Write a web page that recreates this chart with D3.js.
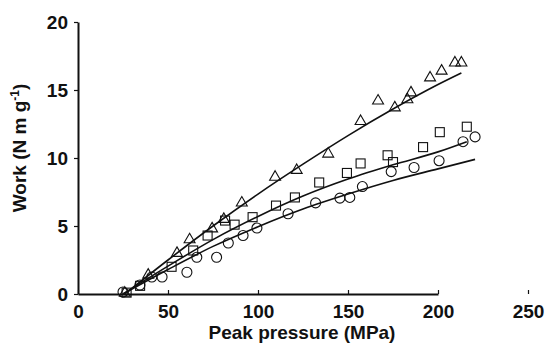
<!DOCTYPE html>
<html><head><meta charset="utf-8">
<script src="https://cdn.jsdelivr.net/npm/d3@7"></script>
<style>
body{margin:0;background:#fff;}
text{font-family:"Liberation Sans",Arial,sans-serif;fill:#111;}
</style></head>
<body><svg id="c" width="546" height="348"></svg>
<script>
// Data (Peak pressure MPa, Work N m g-1)
const triangleX = [26,39,55,62,74.5,81,91,109.5,121.5,139,157,166.7,176,183,185,195.6,202,209.4,213];
const triangleY = [0.07,1.4,3.0,4.0,4.8,5.5,6.7,8.6,9.1,10.3,12.7,14.2,13.7,14.3,14.8,15.9,16.4,17.0,17.0];
const squareX = [27,34.5,52,64,72,81.7,87,97,110,120.5,134,149.4,157,172,175,191.7,201,216];
const squareY = [0.1,0.6,2.0,3.2,4.3,5.4,5.1,5.65,6.5,7.1,8.2,8.9,9.6,10.2,9.7,10.8,11.9,12.3];
const circleX = [25,34.4,41,46.7,60.5,66,77,83.5,91.7,99.4,116.7,132,145.5,151,158,174,186.7,200.6,213.9,220.6];
const circleY = [0.15,0.66,1.25,1.25,1.6,2.7,2.7,3.75,4.3,4.85,5.9,6.7,7.05,7.1,7.9,9.0,9.3,9.8,11.2,11.55];
// Fitted curves
const fitTriX = [26,50,75,100,125,150,175,200,213];
const fitTriY = [0,2.5,5.0,7.35,9.55,11.65,13.6,15.4,16.25];
const fitSqX = [25,50,75,100,125,150,175,200,216];
const fitSqY = [0,2.05,4.0,5.7,7.2,8.45,9.5,10.45,11.2];
const fitCirX = [25,50,75,100,125,150,175,200,220.6];
const fitCirY = [0,1.8,3.5,4.95,6.25,7.35,8.35,9.2,9.9];
const xTicks = [0,50,100,150,200,250];
const yTicks = [0,5,10,15,20];

const svg = d3.select("#c");
const x = d3.scaleLinear().domain([0,200]).range([78,438]);
const y = d3.scaleLinear().domain([0,20]).range([294,22]);

// axes
const xa = svg.append("g").attr("transform","translate(0,294)")
  .call(d3.axisBottom(x).tickValues(xTicks).tickSize(-4).tickSizeOuter(0));
const ya = svg.append("g").attr("transform","translate(78,0)")
  .call(d3.axisLeft(y).tickValues(yTicks).tickSize(4).tickPadding(6).tickSizeOuter(0));
[xa,ya].forEach(a=>{
  a.select(".domain").attr("stroke","#111").attr("stroke-width",2);
  a.selectAll(".tick line").attr("stroke","#111").attr("stroke-width",1.2);
  a.selectAll(".tick text").attr("font-size",19).attr("font-weight","bold")
   .style("font-family","Liberation Sans, Arial, sans-serif").attr("fill","#111");
});
xa.selectAll(".tick text").attr("y",24).attr("dy",0);
ya.selectAll(".tick text").attr("dy","0.36em");

// titles
svg.append("text").attr("x",302).attr("y",339).attr("text-anchor","middle")
  .attr("font-size",19).attr("font-weight","bold").text("Peak pressure (MPa)");
const yt = svg.append("text").attr("transform","translate(26,148) rotate(-90)")
  .attr("text-anchor","middle").attr("font-size",19).attr("font-weight","bold");
yt.append("tspan").text("Work (N m g");
yt.append("tspan").attr("font-size",12).attr("dy",-7).text("-1");
yt.append("tspan").attr("dy",7).text(")");

// fit lines
const line = d3.line().x(d=>x(d[0])).y(d=>y(d[1])).curve(d3.curveMonotoneX);
[[fitTriX,fitTriY],[fitSqX,fitSqY],[fitCirX,fitCirY]].forEach(([xs,ys])=>{
  svg.append("path").datum(xs.map((v,i)=>[v,ys[i]])).attr("d",line)
    .attr("fill","none").attr("stroke","#111").attr("stroke-width",1.6);
});

// markers
const g = svg.append("g").attr("fill","none").attr("stroke","#111").attr("stroke-width",1.1);
g.selectAll("circle.c").data(circleX.map((v,i)=>[v,circleY[i]])).join("circle")
  .attr("cx",d=>x(d[0])).attr("cy",d=>y(d[1])).attr("r",5).attr("fill","none");
g.selectAll("rect.s").data(squareX.map((v,i)=>[v,squareY[i]])).join("rect")
  .attr("x",d=>x(d[0])-4.5).attr("y",d=>y(d[1])-4.5).attr("width",9).attr("height",9);
const tri = d3.symbol().type(d3.symbolTriangle).size(52);
g.selectAll("path.t").data(triangleX.map((v,i)=>[v,triangleY[i]])).join("path")
  .attr("d",tri).attr("transform",d=>`translate(${x(d[0])},${y(d[1])})`);
</script></body></html>
